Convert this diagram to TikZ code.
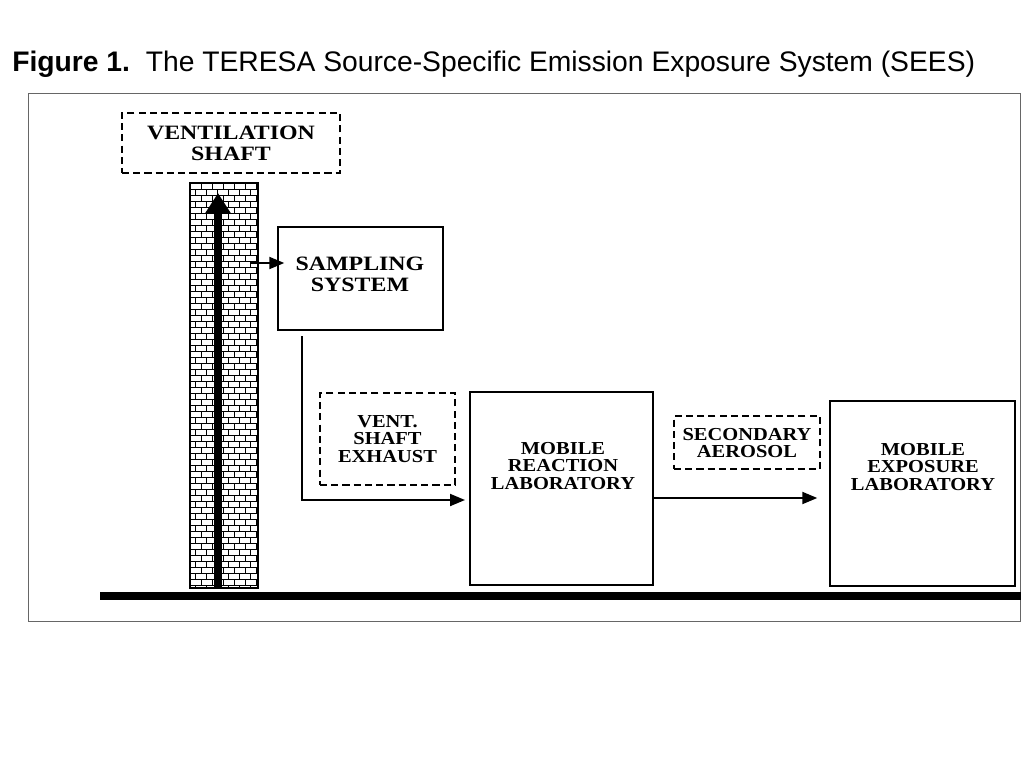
\documentclass[tikz,border=0pt]{standalone}
\usepackage{fontspec}
\setmainfont{Liberation Serif}
\newfontfamily\titlefont{Liberation Sans}
\newfontfamily\boxfont[FakeStretch=1.12]{Liberation Serif}
\newfontfamily\bigboxfont[FakeStretch=1.17]{Liberation Serif}
\usetikzlibrary{arrows.meta}

\begin{document}
\begin{tikzpicture}[x=0.025cm,y=-0.025cm,
  box/.style={draw,line width=1pt,inner sep=0pt},
  dbox/.style={box,dash pattern=on 5pt off 3pt},
  lbl/.style={font=\boxfont\bfseries\fontsize{13}{12.7}\selectfont,align=center,inner sep=0pt},
  biglbl/.style={lbl,font=\bigboxfont\bfseries\fontsize{14.5}{14.9}\selectfont},
  arr/.style={line width=1.4pt,-{Triangle[length=0.375cm,width=0.3cm]}},
  bigarr/.style={line width=5pt,-{Triangle[length=0.5cm,width=0.6cm]}},
  brick/.style={line width=0.6pt}]
\useasboundingbox (0,0) rectangle (1024,768);

% title and frame
\node[anchor=west,inner sep=0pt,font=\titlefont\fontsize{20.1}{24}\selectfont] (title) at (12,64)
  {\textbf{Figure 1.}\ \ The TERESA Source-Specific Emission Exposure System (SEES)};
\draw[gray!80!black,line width=0.7pt] (28,93) rectangle (1020,621);

% brick shaft
\node[draw,line width=0.8pt,minimum width=1.7cm,minimum height=10.125cm,inner sep=0pt] (col) at (224,385.5) {};
\begin{scope}
\clip (190,183) rectangle (258,588);
\foreach \r [evaluate=\r as \off using {mod(\r,2)*5.5}] in {0,...,67} {
  \draw[brick] (190,183+6*\r) -- (258,183+6*\r);
  \foreach \k in {-1,...,6}
    \draw[brick] (190+\off+11*\k,183+6*\r) -- ++(0,6);
}
\end{scope}

% boxes
\node[dbox,minimum width=5.45cm,minimum height=1.5cm] (vent) at (231,143) {};
\node[biglbl] (ventt) at (231,143) {VENTILATION\\SHAFT};
\node[box,minimum width=4.125cm,minimum height=2.575cm] (samp) at (360.5,278.5) {};
\node[biglbl] (sampt) at (360,274) {SAMPLING\\SYSTEM};
\node[dbox,minimum width=3.375cm,minimum height=2.3cm] (exh) at (387.5,439) {};
\node[lbl] (exht) at (387.5,439) {VENT.\\SHAFT\\EXHAUST};
\node[box,minimum width=4.575cm,minimum height=4.825cm] (react) at (561.5,488.5) {};
\node[lbl] (reactt) at (563,466) {MOBILE\\REACTION\\LABORATORY};
\node[dbox,minimum width=3.65cm,minimum height=1.325cm] (aer) at (747,442.5) {};
\node[lbl] (aert) at (747,443) {SECONDARY\\AEROSOL};
\node[box,minimum width=4.625cm,minimum height=4.625cm] (expo) at (922.5,493.5) {};
\node[lbl] (expot) at (923,467) {MOBILE\\EXPOSURE\\LABORATORY};

% flows
\coordinate (base) at (218,588);
\coordinate (top) at (218,193);
\coordinate (tap) at (250,263);
\coordinate (drop) at (302,336);
\coordinate (feed) at (470,500);
\draw[bigarr] (base) -- (top);
\draw[arr] (tap) -- ([xshift=0.175cm]tap -| samp.west);
\draw[arr,shorten >=0.125cm] (drop) |- (feed);
\draw[arr,shorten >=0.3cm] (react.east |- 0,498) -- (expo.west |- 0,498);

% ground
\coordinate (gl) at (100,596);
\coordinate (gr) at (1021,596);
\draw[line width=0.2cm] (gl) -- (gr);
\end{tikzpicture}
\end{document}
